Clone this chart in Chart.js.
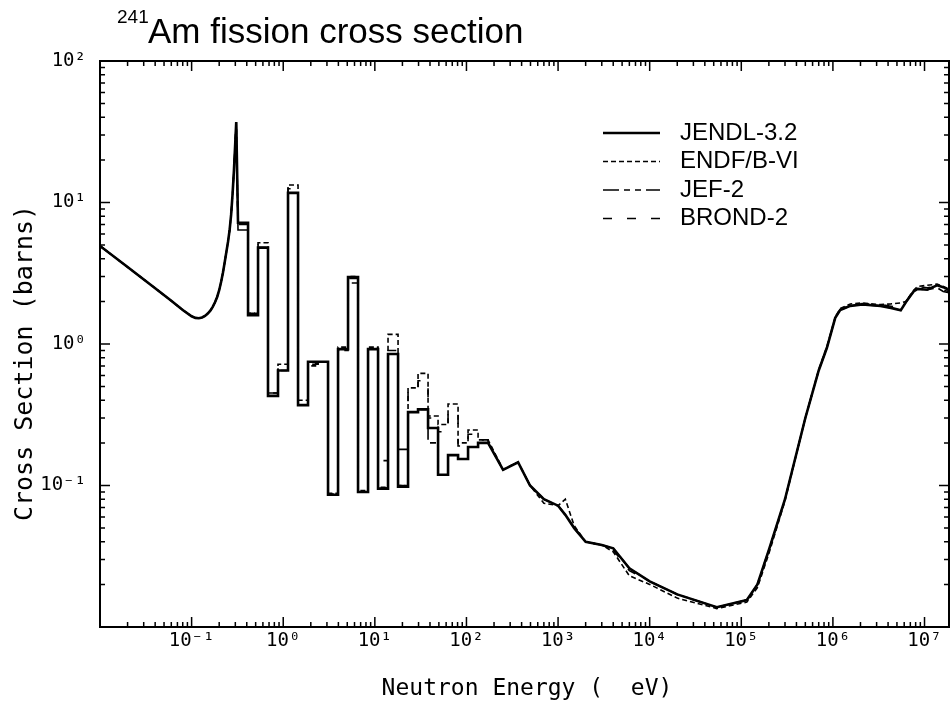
<!DOCTYPE html>
<html>
<head>
<meta charset="utf-8">
<script src="https://cdn.jsdelivr.net/npm/chart.js@4.4.1/dist/chart.umd.min.js"></script>
<style>
html, body { margin: 0; padding: 0; background: #fff; }
canvas { display: block; }
</style>
</head>
<body>
<canvas id="amFission" width="951" height="704"></canvas>
<script>
// thermal region (smooth), eV / barns
var thermalE = [0.01, 0.02, 0.04, 0.06, 0.08, 0.1, 0.11, 0.12, 0.13, 0.14, 0.15, 0.16, 0.17, 0.18, 0.19,
  0.2, 0.21, 0.22, 0.23, 0.24, 0.25, 0.26, 0.27, 0.28, 0.29, 0.3, 0.307];
var thermalSigma = [4.93, 3.5, 2.48, 2.02, 1.74, 1.57, 1.53, 1.52, 1.54, 1.58, 1.64, 1.72, 1.83, 1.97, 2.15,
  2.4, 2.75, 3.2, 3.8, 4.5, 5.3, 6.4, 8.2, 11.5, 17, 27, 37];

// resonance region drawn as group histogram: bin edges (eV)
var groupEdges = [0.321, 0.413, 0.531, 0.682, 0.877, 1.128, 1.451, 1.865, 2.398, 3.084, 3.966, 5.099, 6.556,
  8.43, 10.84, 13.93, 17.92, 23.04, 29.62, 38.09, 48.98, 62.97, 80.97, 104.1, 133.9, 172.1];
var jendlGroups = [7.2, 1.6, 4.8, 0.43, 0.65, 11.7, 0.37, 0.75, 0.75, 0.086, 0.92, 2.97, 0.09, 0.92, 0.095,
  0.85, 0.098, 0.33, 0.345, 0.255, 0.119, 0.164, 0.154, 0.187, 0.2];
var endfGroups = [7.2, 1.65, 5.2, 0.45, 0.72, 13.3, 0.4, 0.7, 0.75, 0.088, 0.95, 3.0, 0.092, 0.95, 0.097,
  1.17, 0.1, 0.49, 0.62, 0.31, 0.27, 0.377, 0.2, 0.247, 0.21];
var jefGroups = [6.4, 1.6, 4.8, 0.43, 0.65, 11.7, 0.37, 0.72, 0.75, 0.086, 0.9, 2.7, 0.09, 0.92, 0.15,
  0.85, 0.18, 0.33, 0.345, 0.2, 0.119, 0.164, 0.154, 0.187, 0.2];
var brondGroups = [7.0, 1.65, 5.0, 0.45, 0.7, 12.5, 0.38, 0.73, 0.75, 0.087, 0.93, 2.9, 0.09, 0.93, 0.096,
  0.9, 0.1, 0.45, 0.55, 0.3, 0.24, 0.33, 0.19, 0.23, 0.21];

// fast region (smooth)
var fastE = [172.1, 251, 366, 494, 700, 1000, 1200, 1500, 2000, 3000, 4000, 6000, 1e4, 2e4, 5.4e4, 1.15e5,
  1.5e5, 2e5, 3e5, 5e5, 7e5, 8.6e5, 1.06e6, 1.2e6, 1.55e6, 2.1e6, 3.3e6, 4.3e6, 5.5e6, 6.3e6, 7.6e6,
  8.4e6, 1.07e7, 1.37e7, 1.6e7, 1.85e7];
var jendlFast = [0.2, 0.129, 0.146, 0.1, 0.08, 0.072, 0.062, 0.05, 0.04, 0.038, 0.036, 0.026, 0.021, 0.017,
  0.0138, 0.0155, 0.02, 0.035, 0.08, 0.3, 0.65, 0.94, 1.53, 1.74, 1.86, 1.9, 1.86, 1.8, 1.73, 1.99, 2.35,
  2.45, 2.42, 2.6, 2.52, 2.4];
var endfFast = [0.21, 0.13, 0.146, 0.1, 0.075, 0.072, 0.08, 0.052, 0.04, 0.038, 0.034, 0.023, 0.02, 0.016,
  0.0135, 0.015, 0.019, 0.033, 0.078, 0.3, 0.66, 0.96, 1.55, 1.78, 1.92, 1.95, 1.9, 1.92, 1.95, 2.0, 2.4,
  2.55, 2.6, 2.65, 2.55, 2.45];
var jefFast = [0.2, 0.129, 0.146, 0.1, 0.08, 0.072, 0.062, 0.05, 0.04, 0.038, 0.036, 0.026, 0.021, 0.017,
  0.0138, 0.0155, 0.02, 0.035, 0.08, 0.3, 0.65, 0.94, 1.53, 1.74, 1.86, 1.9, 1.86, 1.8, 1.73, 1.99, 2.35,
  2.45, 2.42, 2.5, 2.35, 2.3];
var brondFast = [0.2, 0.13, 0.146, 0.1, 0.08, 0.072, 0.062, 0.05, 0.04, 0.038, 0.035, 0.025, 0.021, 0.017,
  0.0138, 0.0155, 0.02, 0.035, 0.08, 0.3, 0.65, 0.94, 1.53, 1.76, 1.9, 1.93, 1.9, 1.85, 1.8, 2.0, 2.4,
  2.55, 2.5, 2.55, 2.4, 2.35];

var libLabels = ['JENDL-3.2', 'ENDF/B-VI', 'JEF-2', 'BROND-2'];
var xLabelTicks = [0.1, 1, 10, 100, 1e3, 1e4, 1e5, 1e6, 1e7];
var yLabelTicks = [0.1, 1, 10, 100];

function buildCurve(groups, fast) {
  var pts = [];
  thermalE.forEach(function (e, i) { pts.push({ x: e, y: thermalSigma[i] }); });
  groups.forEach(function (v, i) {
    pts.push({ x: groupEdges[i], y: v });
    pts.push({ x: groupEdges[i + 1], y: v });
  });
  fastE.forEach(function (e, i) { pts.push({ x: e, y: fast[i] }); });
  return pts;
}

var sup = { '-': '\u207B', '0': '\u2070', '1': '\u00B9', '2': '\u00B2', '3': '\u00B3', '4': '\u2074',
  '5': '\u2075', '6': '\u2076', '7': '\u2077' };
function powLabel(v) {
  var s = String(Math.round(Math.log10(v)));
  return '10' + s.split('').map(function (c) { return sup[c]; }).join('');
}

var decor = {
  id: 'decor',
  afterDraw: function (chart) {
    var ctx = chart.ctx, a = chart.chartArea;
    var xs = chart.scales.x, ys = chart.scales.y;
    ctx.save();
    ctx.strokeStyle = '#000';
    ctx.lineWidth = 2;
    ctx.setLineDash([]);
    ctx.strokeRect(a.left, a.top, a.right - a.left, a.bottom - a.top);
    ctx.lineWidth = 1.5;
    ctx.beginPath();
    for (var e = -2; e <= 7; e++) {
      for (var m = 1; m <= 9; m++) {
        var v = m * Math.pow(10, e);
        if (v < xs.min || v > xs.max) continue;
        var px = xs.getPixelForValue(v), len = m === 1 ? 10 : 5;
        ctx.moveTo(px, a.bottom); ctx.lineTo(px, a.bottom - len);
        ctx.moveTo(px, a.top); ctx.lineTo(px, a.top + len);
      }
    }
    for (e = -2; e <= 2; e++) {
      for (m = 1; m <= 9; m++) {
        v = m * Math.pow(10, e);
        if (v < ys.min || v > ys.max) continue;
        var py = ys.getPixelForValue(v);
        len = m === 1 ? 10 : 5;
        ctx.moveTo(a.left, py); ctx.lineTo(a.left + len, py);
        ctx.moveTo(a.right, py); ctx.lineTo(a.right - len, py);
      }
    }
    ctx.stroke();

    // title
    ctx.fillStyle = '#000';
    ctx.textBaseline = 'alphabetic';
    ctx.font = '19px "Liberation Sans", Arial, sans-serif';
    ctx.fillText('241', 117, 23);
    ctx.font = '35px "Liberation Sans", Arial, sans-serif';
    ctx.fillText('Am fission cross section', 148, 43);

    // axis titles
    ctx.font = '23px "DejaVu Sans Mono", monospace';
    ctx.textAlign = 'center';
    ctx.fillText('Neutron Energy (  eV)', 527, 695);
    ctx.save();
    ctx.translate(32, 363);
    ctx.rotate(-Math.PI / 2);
    ctx.font = '25px "DejaVu Sans Mono", monospace';
    ctx.fillText('Cross Section (barns)', 0, 0);
    ctx.restore();

    // legend
    ctx.textAlign = 'left';
    ctx.textBaseline = 'middle';
    ctx.font = '24px "Liberation Sans", Arial, sans-serif';
    chart.data.datasets.forEach(function (ds, i) {
      var ly = 133 + i * 28.5;
      ctx.lineWidth = ds.borderWidth;
      ctx.setLineDash(ds.borderDash || []);
      ctx.beginPath();
      ctx.moveTo(603, ly); ctx.lineTo(660, ly);
      ctx.stroke();
      ctx.fillText(ds.label, 680, ly);
    });
    ctx.restore();
  }
};

var styles = [
  { w: 2.6, dash: [] },
  { w: 1.6, dash: [5, 3] },
  { w: 1.6, dash: [16, 5, 6, 5, 6, 5] },
  { w: 1.6, dash: [9, 15] }
];
var curves = [
  buildCurve(jendlGroups, jendlFast),
  buildCurve(endfGroups, endfFast),
  buildCurve(jefGroups, jefFast),
  buildCurve(brondGroups, brondFast)
];

var tickFont = { family: '"DejaVu Sans Mono", monospace', size: 19 };

new Chart(document.getElementById('amFission').getContext('2d'), {
  type: 'line',
  data: {
    datasets: curves.map(function (pts, i) {
      return {
        label: libLabels[i],
        data: pts,
        borderColor: '#000',
        borderWidth: styles[i].w,
        borderDash: styles[i].dash,
        pointRadius: 0,
        tension: 0,
        fill: false
      };
    })
  },
  options: {
    responsive: false,
    animation: false,
    devicePixelRatio: 1,
    layout: { padding: { top: 61, right: 2, left: 0, bottom: 0 } },
    plugins: { legend: { display: false }, title: { display: false }, tooltip: { enabled: false } },
    scales: {
      x: {
        type: 'logarithmic',
        min: 0.01,
        max: 1.85e7,
        grid: { display: false, drawTicks: false },
        border: { display: false },
        afterBuildTicks: function (s) { s.ticks = xLabelTicks.map(function (v) { return { value: v }; }); },
        afterFit: function (s) { s.height = 77; },
        ticks: { color: '#000', font: tickFont, padding: 3, autoSkip: false, maxRotation: 0,
          callback: function (v) { return powLabel(v); } }
      },
      y: {
        type: 'logarithmic',
        min: 0.01,
        max: 100,
        grid: { display: false, drawTicks: false },
        border: { display: false },
        afterBuildTicks: function (s) { s.ticks = yLabelTicks.map(function (v) { return { value: v }; }); },
        afterFit: function (s) { s.width = 100; },
        ticks: { color: '#000', font: tickFont, padding: 14,
          callback: function (v) { return powLabel(v); } }
      }
    }
  },
  plugins: [decor]
});
</script>
</body>
</html>
